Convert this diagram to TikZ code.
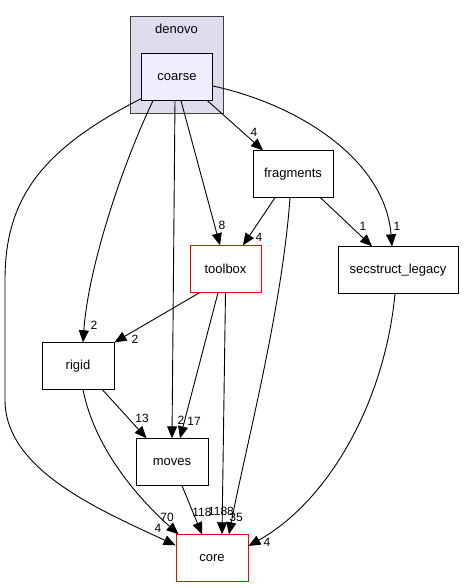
\documentclass[tikz,border=0pt]{standalone}
\usepackage{fontspec}
\setmainfont{Liberation Sans}
\usetikzlibrary{calc,arrows.meta}
\definecolor{clusterfill}{HTML}{DDDDEE}
\definecolor{coarsefill}{HTML}{EEEEFF}
\definecolor{clusterline}{HTML}{404040}
\begin{document}
\begin{tikzpicture}[x=1pt,y=-1pt,
  dirbox/.style={draw=black,line width=0.9pt,rectangle,inner sep=0pt,minimum width=#1,minimum height=46.5pt,font=\fontsize{13}{15}\selectfont},
  redbox/.style={dirbox=#1,draw=red},
  dep/.style={draw=black,line width=0.9pt,-{Triangle[length=12pt,width=10pt]}},
  lbl/.style={inner sep=0pt,font=\fontsize{12}{14}\selectfont}]
\useasboundingbox (0,0) rectangle (464,588);
% cluster
\node[draw=clusterline,fill=clusterfill,line width=0.9pt,rectangle,inner sep=0pt,minimum width=93pt,minimum height=97pt] (denovo) at (176.5,64.5) {};
\node[font=\fontsize{13}{15}\selectfont,inner sep=0pt] (denovolbl) at (176.5,28.5) {denovo};
\node[dirbox=71pt,fill=coarsefill] (coarse) at (177,77) {coarse};
% nodes
\node[dirbox=80pt] (fragments) at (293,174) {fragments};
\node[redbox=71pt] (toolbox) at (225.5,269) {toolbox};
\node[dirbox=120pt] (secstruct) at (398,270) {secstruct\_legacy};
\node[dirbox=72pt] (rigid) at (78,366) {rigid};
\node[dirbox=72pt] (moves) at (172,462) {moves};
\node[redbox=72pt] (core) at (212,558) {core};
% edges from coarse
\draw[dep] ($(coarse.south west)+(0,-2)$) .. controls (40,150) and (5,200) .. (5,280) -- (5,400) .. controls (5,470) and (100,510) .. ($(core.north west)+(0,11)$);
\draw[dep] ($(coarse.south)+(-24,0)$) .. controls (120,170) and (88,270) .. ($(rigid.north)+(5,0)$);
\draw[dep] ($(coarse.south)+(-2,0)$) -- (moves.north);
\draw[dep] ($(coarse.south)+(4,0)$) -- ($(toolbox.north)+(-5.5,0)$);
\draw[dep] ($(coarse.south east)+(-5.5,0)$) -- ($(fragments.north)+(-30,0)$);
\draw[dep] ($(coarse.east)+(0,9)$) .. controls (300,105) and (385,160) .. ($(secstruct.north)+(-6,0)$);
% edges from fragments
\draw[dep] ($(fragments.south)+(-18,0)$) -- ($(toolbox.north)+(17.5,0)$);
\draw[dep] ($(fragments.south east)+(-13,0)$) -- ($(secstruct.north)+(-26,0)$);
\draw[dep] ($(fragments.south)+(-3,0)$) .. controls (282,310) and (245,450) .. ($(core.north)+(17,0)$);
% edges from toolbox
\draw[dep] ($(toolbox.south west)+(10,0)$) -- (rigid.north east);
\draw[dep] ($(toolbox.south)+(-7.5,0)$) -- ($(moves.north)+(8,0)$);
\draw[dep] (toolbox.south) -- ($(core.north)+(10,0)$);
% edges from rigid
\draw[dep] ($(rigid.south east)+(-12,0)$) -- ($(moves.north west)+(11,0)$);
\draw[dep] ($(rigid.south)+(5,0)$) .. controls (95,450) and (140,500) .. ($(core.north west)+(3,0)$);
% moves, secstruct
\draw[dep] ($(moves.south)+(10,0)$) -- ($(core.north)+(-10,0)$);
\draw[dep] ($(secstruct.south)+(-3,0)$) .. controls (385,400) and (330,500) .. ($(core.east)+(0,-12)$);
% labels
\node[lbl] (l1) at (158,528) {4};
\node[lbl] (l2) at (94,325) {2};
\node[lbl] (l3) at (181,420) {2};
\node[lbl] (l4) at (222,225) {8};
\node[lbl] (l5) at (254,132) {4};
\node[lbl] (l6) at (397,226) {1};
\node[lbl] (l7) at (259,237) {4};
\node[lbl] (l8) at (363,226) {1};
\node[lbl] (l9) at (236,517) {35};
\node[lbl] (l10) at (135,339) {2};
\node[lbl] (l11) at (194,421) {17};
\node[lbl] (l12) at (221,511.5) {1188};
\node[lbl] (l13) at (142,418) {13};
\node[lbl] (l14) at (167,517) {70};
\node[lbl] (l15) at (202,512) {118};
\node[lbl] (l16) at (267,542) {4};
\end{tikzpicture}
\end{document}
